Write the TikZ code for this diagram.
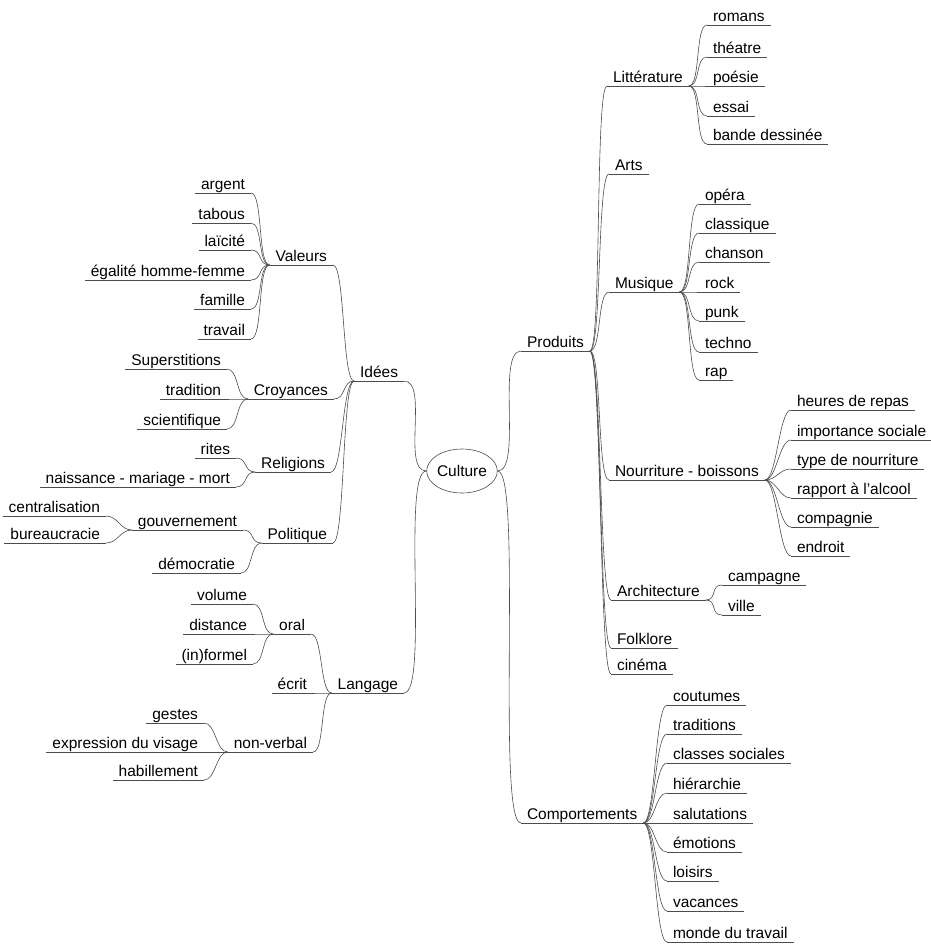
\documentclass[tikz,border=0pt]{standalone}
\usepackage{fontspec}
\setmainfont{Liberation Sans}
\usetikzlibrary{shapes.geometric}
\tikzset{
        trait/.style={draw=black!70, line width=.6pt},
        topic/.style={
            font=\fontsize{15.5}{18}\selectfont,
            inner xsep=6pt, inner ysep=4pt, outer sep=0pt,
            text height=11pt, text depth=0pt,
            append after command={(\tikzlastnode.south west) edge[trait] (\tikzlastnode.south east)},
        },
        rtopic/.style={topic, anchor=south west},
        ltopic/.style={topic, anchor=south east},
        rlink/.style={trait, to path={.. controls +(#1,0) and +(-#1,0) .. (\tikztotarget)}},
        rlink/.default=12,
        llink/.style={trait, to path={.. controls +(-#1,0) and +(#1,0) .. (\tikztotarget)}},
        llink/.default=12,
    }
\begin{document}
\begin{tikzpicture}[x=1pt,y=-1pt]
 \useasboundingbox (0,0) rectangle (930,945);
 \node[trait,ellipse,minimum width=70pt,minimum height=44pt,inner sep=0pt,
       font=\fontsize{15.5}{18}\selectfont] (@cult) at (462,471) {Culture};
 % main branches
 \node[rtopic] (@prod) at (521,351) {Produits};
 \node[rtopic] (@comp) at (521,823) {Comportements};
 \node[ltopic] (@idees) at (404,381) {Idées};
 \node[ltopic] (@lang) at (404,693) {Langage};
 \draw[rlink=25] (@cult.east) to (@prod.south west);
 \draw[rlink=25] (@cult.east) to (@comp.south west);
 \draw[llink=25] (@cult.west) to (@idees.south east);
 \draw[llink=25] (@cult.west) to (@lang.south east);
 % Produits
 \node[rtopic] (@litt) at (607,86) {Littérature};
 \node[rtopic] (@arts) at (609,174) {Arts};
 \node[rtopic] (@mus) at (609,292) {Musique};
 \node[rtopic] (@nour) at (609,480) {Nourriture - boissons};
 \node[rtopic] (@arch) at (611,600) {Architecture};
 \node[rtopic] (@folk) at (611,648) {Folklore};
 \node[rtopic] (@cine) at (611,674) {cinéma};
 \foreach \n in {litt,arts,mus,nour,arch,folk,cine}
   \draw[rlink] (@prod.south east) to (@\n.south west);
 \foreach \n/\y/\t in {rom/25/romans,the/57/théatre,poe/86/poésie,ess/116/essai,bd/144/bande dessinée}{
   \node[rtopic] (@\n) at (707,\y) {\t};
   \draw[rlink] (@litt.south east) to (@\n.south west);
 }
 \foreach \n/\y/\t in {ope/204/opéra,cla/233/classique,cha/262/chanson,roc/292/rock,pun/321/punk,tec/352/techno,rap/380/rap}{
   \node[rtopic] (@\n) at (699,\y) {\t};
   \draw[rlink] (@mus.south east) to (@\n.south west);
 }
 \foreach \n/\y/\t in {heu/410/heures de repas,imp/440/importance sociale,typ/469/type de nourriture,alc/498/rapport à l'alcool,cpg/527/compagnie,end/556/endroit}{
   \node[rtopic] (@\n) at (791,\y) {\t};
   \draw[rlink] (@nour.south east) to (@\n.south west);
 }
 \foreach \n/\y/\t in {camp/585/campagne,vil/615/ville}{
   \node[rtopic] (@\n) at (722,\y) {\t};
   \draw[rlink] (@arch.south east) to (@\n.south west);
 }
 % Comportements
 \foreach \n/\y/\t in {cou/705/coutumes,tra/734/traditions,cls/763/classes sociales,hie/793/hiérarchie,sal/823/salutations,emo/852/émotions,loi/881/loisirs,vac/911/vacances,mon/942/monde du travail}{
   \node[rtopic] (@\n) at (667,\y) {\t};
   \draw[rlink] (@comp.south east) to (@\n.south west);
 }
 % Idees
 \node[ltopic] (@val) at (333,265) {Valeurs};
 \node[ltopic] (@croy) at (334,399) {Croyances};
 \node[ltopic] (@rel) at (331,472) {Religions};
 \node[ltopic] (@pol) at (333,543) {Politique};
 \foreach \n in {val,croy,rel,pol}
   \draw[llink] (@idees.south west) to (@\n.south east);
 \foreach \n/\y/\t in {arg/193/argent,tab/223/tabous,lai/250/laïcité,ega/280/égalité homme-femme,fam/309/famille,trv/339/travail}{
   \node[ltopic] (@\n) at (251,\y) {\t};
   \draw[llink] (@val.south west) to (@\n.south east);
 }
 \foreach \n/\y/\t in {sup/369/Superstitions,trd/399/tradition,sci/429/scientifique}{
   \node[ltopic] (@\n) at (227,\y) {\t};
   \draw[llink] (@croy.south west) to (@\n.south east);
 }
 \foreach \n/\y/\t in {rit/458/rites,nai/487/naissance - mariage - mort}{
   \node[ltopic] (@\n) at (236,\y) {\t};
   \draw[llink] (@rel.south west) to (@\n.south east);
 }
 \node[ltopic] (@gouv) at (243,530) {gouvernement};
 \node[ltopic] (@demo) at (241,573) {démocratie};
 \foreach \n in {gouv,demo}
   \draw[llink] (@pol.south west) to (@\n.south east);
 \foreach \n/\y/\t in {cen/516/centralisation,bur/543/bureaucracie}{
   \node[ltopic] (@\n) at (106,\y) {\t};
   \draw[llink] (@gouv.south west) to (@\n.south east);
 }
 % Langage
 \node[ltopic] (@oral) at (311,634) {oral};
 \node[ltopic] (@ecrit) at (313,693) {écrit};
 \node[ltopic] (@nonv) at (313,752) {non-verbal};
 \foreach \n in {oral,ecrit,nonv}
   \draw[llink] (@lang.south west) to (@\n.south east);
 \foreach \n/\y/\t in {vol/604/volume,dis/634/distance,inf/664/(in)formel}{
   \node[ltopic] (@\n) at (253,\y) {\t};
   \draw[llink] (@oral.south west) to (@\n.south east);
 }
 \foreach \n/\y/\t in {ges/723/gestes,exp/752/expression du visage,hab/780/habillement}{
   \node[ltopic] (@\n) at (204,\y) {\t};
   \draw[llink] (@nonv.south west) to (@\n.south east);
 }
\end{tikzpicture}
\end{document}
